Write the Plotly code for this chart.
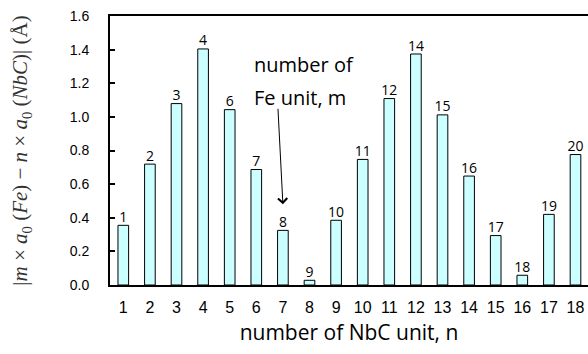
import plotly.graph_objects as go

n_units = list(range(1, 19))
mismatch = [0.355, 0.719, 1.079, 1.404, 1.043, 0.687, 0.325, 0.028, 0.385,
            0.747, 1.109, 1.374, 1.012, 0.648, 0.294, 0.058, 0.420, 0.776]
fe_units = ["1", "2", "3", "4", "6", "7", "8", "9", "10", "11", "12", "14",
            "15", "16", "17", "18", "19", "20"]
y_ticks = [0.0, 0.2, 0.4, 0.6, 0.8, 1.0, 1.2, 1.4, 1.6]

fig = go.Figure()
fig.add_trace(go.Bar(
    x=n_units, y=mismatch, width=0.4,
    marker=dict(color="#ccffff", line=dict(color="#000000", width=1)),
    hoverinfo="skip",
))
fig.add_trace(go.Scatter(
    x=n_units, y=mismatch, mode="text", text=fe_units,
    textposition="top center", cliponaxis=False,
    textfont=dict(family="Open Sans", size=14, color="#000"),
    hoverinfo="skip",
))

fig.add_annotation(
    x=7, y=0.48, xref="x", yref="y",
    ax=-5, ay=-97, text="", showarrow=True,
    arrowhead=4, arrowsize=1.8, arrowwidth=1, arrowcolor="#000",
)
fig.add_annotation(
    x=5.85, y=1.309, xref="x", yref="y", xanchor="left", yanchor="middle",
    text="number of", showarrow=False,
    font=dict(family="Open Sans", size=20, color="#000"),
)
fig.add_annotation(
    x=5.85, y=1.113, xref="x", yref="y", xanchor="left", yanchor="middle",
    text="Fe unit, m", showarrow=False,
    font=dict(family="Open Sans", size=20, color="#000"),
)

fig.update_layout(
    width=588, height=354,
    margin=dict(l=110, r=0, t=16, b=69),
    plot_bgcolor="white", paper_bgcolor="white",
    showlegend=False,
    font=dict(family="Liberation Sans", size=14, color="#000"),
)
fig.update_xaxes(
    range=[0.5, 18.47], tickmode="array", tickvals=n_units,
    ticktext=[str(v) for v in n_units],
    showline=True, linecolor="#000", linewidth=2, mirror=True,
    ticks="", showgrid=False, zeroline=False, ticklabelstandoff=7,
    tickfont=dict(family="Liberation Sans", size=16),
    title=dict(text="number of NbC unit, n", standoff=10,
               font=dict(family="Open Sans", size=21)),
)
fig.update_yaxes(
    range=[0, 1.6], tickmode="array", tickvals=y_ticks,
    ticktext=[f"{v:.1f}" for v in y_ticks],
    showline=True, linecolor="#000", linewidth=2,
    ticks="inside", ticklen=5, tickwidth=1.5, tickcolor="#000",
    showgrid=False, zeroline=False, ticklabelstandoff=16,
    tickfont=dict(family="Liberation Sans", size=14),
    title=dict(
        text="|<i>m</i> × <i>a</i><sub>0</sub> (<i>Fe</i>) − <i>n</i> × <i>a</i><sub>0</sub> (<i>NbC</i>)| (Å)",
        standoff=36, font=dict(family="Liberation Serif", size=21, color="#333")),
)

fig.write_html("out.html")
